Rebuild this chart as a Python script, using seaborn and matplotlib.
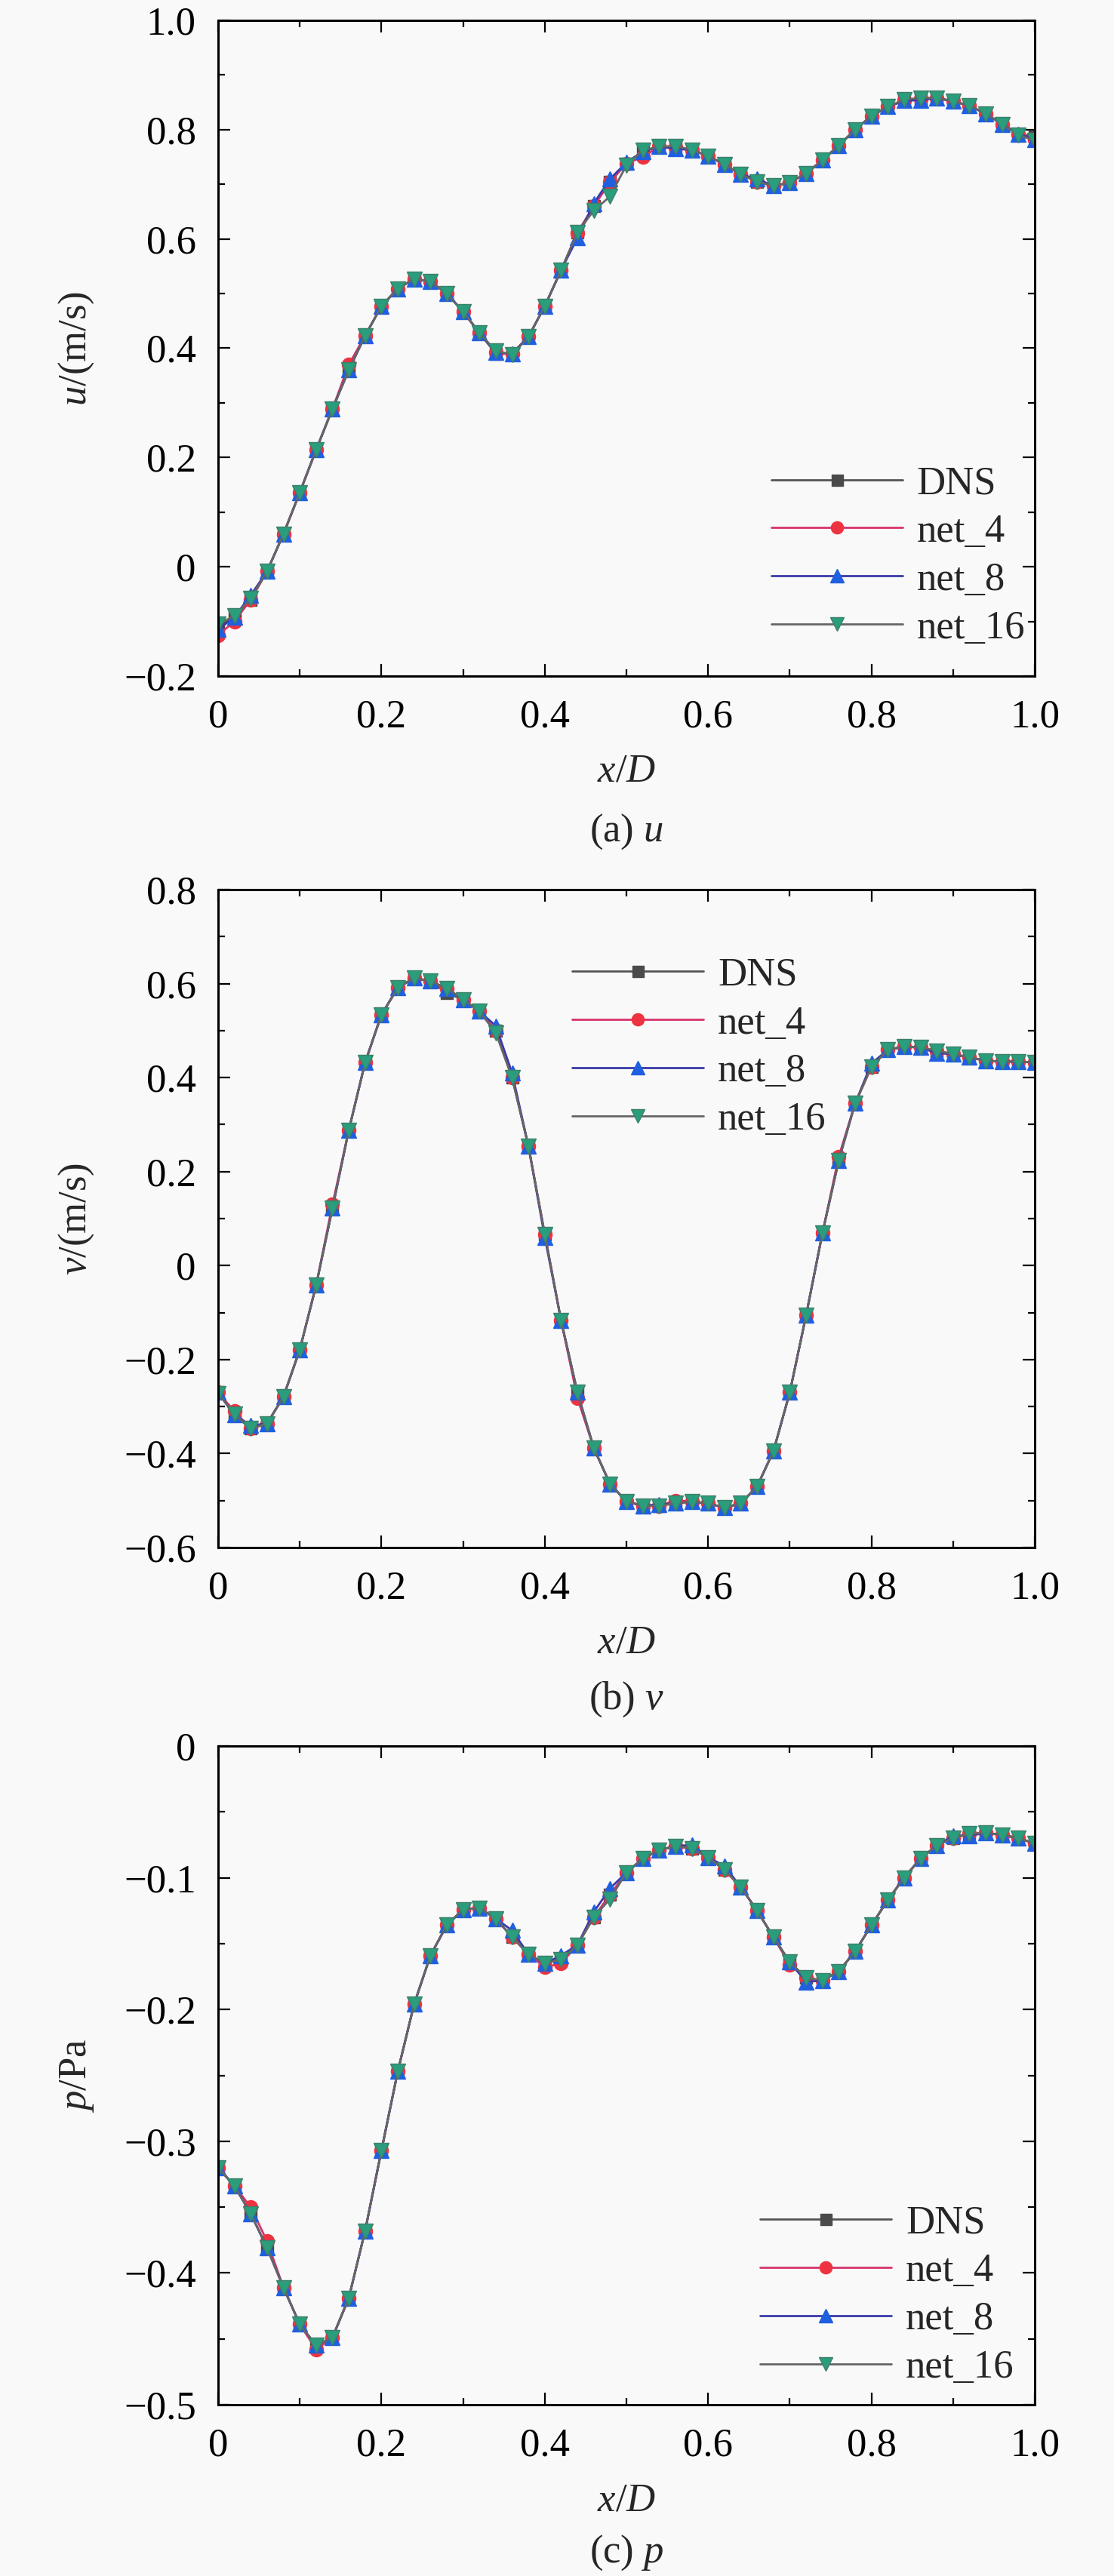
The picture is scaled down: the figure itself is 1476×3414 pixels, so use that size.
import numpy as np
import pandas as pd
import matplotlib
matplotlib.use("Agg")
import matplotlib.pyplot as plt
import seaborn as sns
from matplotlib.ticker import FixedLocator, MultipleLocator

# ---------------- data ----------------
x_pos = [0.00, 0.02, 0.04, 0.06, 0.08, 0.10, 0.12, 0.14, 0.16, 0.18,
         0.20, 0.22, 0.24, 0.26, 0.28, 0.30, 0.32, 0.34, 0.36, 0.38,
         0.40, 0.42, 0.44, 0.46, 0.48, 0.50, 0.52, 0.54, 0.56, 0.58,
         0.60, 0.62, 0.64, 0.66, 0.68, 0.70, 0.72, 0.74, 0.76, 0.78,
         0.80, 0.82, 0.84, 0.86, 0.88, 0.90, 0.92, 0.94, 0.96, 0.98, 1.00]

u_dns = [-0.110, -0.092, -0.060, -0.008, 0.060, 0.136, 0.214, 0.289, 0.360, 0.423,
         0.477, 0.509, 0.527, 0.522, 0.500, 0.467, 0.428, 0.390, 0.390, 0.421,
         0.477, 0.543, 0.612, 0.660, 0.705, 0.738, 0.760, 0.769, 0.768, 0.763,
         0.752, 0.736, 0.718, 0.705, 0.697, 0.703, 0.720, 0.744, 0.771, 0.800,
         0.825, 0.842, 0.853, 0.857, 0.858, 0.852, 0.844, 0.829, 0.810, 0.792, 0.788]
u_net4 = [-0.125, -0.100, -0.060, -0.008, 0.060, 0.136, 0.214, 0.289, 0.370, 0.423,
          0.477, 0.509, 0.527, 0.522, 0.500, 0.467, 0.428, 0.392, 0.390, 0.421,
          0.477, 0.543, 0.610, 0.660, 0.705, 0.738, 0.750, 0.769, 0.768, 0.763,
          0.752, 0.736, 0.718, 0.705, 0.697, 0.703, 0.720, 0.744, 0.771, 0.800,
          0.825, 0.842, 0.853, 0.857, 0.858, 0.852, 0.844, 0.829, 0.810, 0.792, 0.782]
u_net8 = [-0.115, -0.092, -0.052, -0.008, 0.060, 0.136, 0.214, 0.289, 0.360, 0.423,
          0.477, 0.509, 0.527, 0.522, 0.500, 0.467, 0.428, 0.392, 0.390, 0.421,
          0.477, 0.543, 0.602, 0.665, 0.710, 0.740, 0.760, 0.769, 0.765, 0.763,
          0.752, 0.736, 0.718, 0.710, 0.697, 0.703, 0.720, 0.744, 0.771, 0.800,
          0.825, 0.842, 0.853, 0.854, 0.858, 0.852, 0.844, 0.829, 0.810, 0.792, 0.782]
u_net16 = [-0.105, -0.090, -0.058, -0.008, 0.060, 0.136, 0.214, 0.289, 0.360, 0.423,
           0.477, 0.509, 0.527, 0.522, 0.500, 0.467, 0.428, 0.395, 0.388, 0.421,
           0.477, 0.543, 0.612, 0.652, 0.678, 0.735, 0.762, 0.769, 0.770, 0.763,
           0.752, 0.736, 0.718, 0.705, 0.697, 0.703, 0.720, 0.744, 0.771, 0.800,
           0.825, 0.842, 0.855, 0.858, 0.858, 0.852, 0.844, 0.829, 0.810, 0.790, 0.780]

v_dns = [-0.270, -0.318, -0.347, -0.336, -0.279, -0.179, -0.042, 0.122, 0.288, 0.432,
         0.534, 0.591, 0.612, 0.605, 0.580, 0.566, 0.541, 0.500, 0.400, 0.254,
         0.067, -0.117, -0.270, -0.388, -0.465, -0.502, -0.511, -0.511, -0.506, -0.502,
         -0.506, -0.515, -0.506, -0.470, -0.395, -0.270, -0.106, 0.069, 0.224, 0.345,
         0.423, 0.459, 0.466, 0.464, 0.457, 0.450, 0.443, 0.436, 0.434, 0.434, 0.432]
v_net4 = [-0.270, -0.310, -0.347, -0.336, -0.279, -0.179, -0.042, 0.130, 0.288, 0.432,
          0.534, 0.591, 0.612, 0.605, 0.590, 0.566, 0.541, 0.500, 0.400, 0.254,
          0.067, -0.117, -0.282, -0.388, -0.465, -0.502, -0.511, -0.511, -0.500, -0.502,
          -0.506, -0.515, -0.506, -0.470, -0.395, -0.270, -0.106, 0.069, 0.232, 0.345,
          0.423, 0.459, 0.466, 0.464, 0.457, 0.450, 0.443, 0.436, 0.434, 0.434, 0.432]
v_net8 = [-0.270, -0.318, -0.340, -0.336, -0.279, -0.179, -0.042, 0.122, 0.288, 0.432,
          0.534, 0.591, 0.612, 0.605, 0.590, 0.566, 0.541, 0.510, 0.410, 0.254,
          0.060, -0.117, -0.270, -0.388, -0.465, -0.502, -0.511, -0.508, -0.506, -0.502,
          -0.506, -0.515, -0.506, -0.470, -0.395, -0.270, -0.106, 0.069, 0.224, 0.345,
          0.430, 0.459, 0.466, 0.464, 0.452, 0.450, 0.443, 0.436, 0.434, 0.434, 0.432]
v_net16 = [-0.272, -0.316, -0.347, -0.336, -0.279, -0.179, -0.042, 0.122, 0.288, 0.432,
           0.534, 0.591, 0.612, 0.605, 0.590, 0.566, 0.541, 0.495, 0.400, 0.254,
           0.067, -0.117, -0.270, -0.388, -0.465, -0.502, -0.511, -0.511, -0.506, -0.502,
           -0.506, -0.515, -0.506, -0.470, -0.395, -0.270, -0.106, 0.069, 0.224, 0.345,
           0.423, 0.459, 0.466, 0.464, 0.457, 0.450, 0.443, 0.436, 0.434, 0.434, 0.432]

p_dns = [-0.320, -0.334, -0.355, -0.381, -0.411, -0.439, -0.455, -0.449, -0.419, -0.368,
         -0.307, -0.247, -0.196, -0.159, -0.136, -0.124, -0.123, -0.131, -0.145, -0.158,
         -0.165, -0.162, -0.151, -0.130, -0.113, -0.096, -0.0855, -0.079, -0.076, -0.078,
         -0.0845, -0.094, -0.107, -0.125, -0.145, -0.164, -0.176, -0.178, -0.171, -0.156,
         -0.136, -0.117, -0.100, -0.0855, -0.0756, -0.0697, -0.0667, -0.066, -0.0674, -0.070, -0.074]
p_net4 = [-0.320, -0.334, -0.350, -0.376, -0.411, -0.439, -0.458, -0.449, -0.419, -0.368,
          -0.307, -0.247, -0.196, -0.159, -0.136, -0.124, -0.123, -0.131, -0.145, -0.158,
          -0.168, -0.165, -0.151, -0.130, -0.113, -0.096, -0.0855, -0.079, -0.076, -0.078,
          -0.0845, -0.094, -0.107, -0.125, -0.145, -0.166, -0.176, -0.178, -0.171, -0.156,
          -0.136, -0.117, -0.100, -0.0855, -0.0756, -0.0697, -0.0667, -0.066, -0.0674, -0.070, -0.074]
p_net8 = [-0.320, -0.334, -0.355, -0.381, -0.411, -0.439, -0.455, -0.449, -0.419, -0.368,
          -0.307, -0.247, -0.196, -0.159, -0.136, -0.124, -0.123, -0.131, -0.140, -0.158,
          -0.165, -0.159, -0.151, -0.126, -0.108, -0.096, -0.0855, -0.079, -0.076, -0.075,
          -0.0845, -0.091, -0.107, -0.125, -0.145, -0.164, -0.179, -0.178, -0.171, -0.156,
          -0.136, -0.117, -0.100, -0.0855, -0.0756, -0.068, -0.068, -0.066, -0.0674, -0.070, -0.074]
p_net16 = [-0.320, -0.334, -0.355, -0.381, -0.411, -0.439, -0.455, -0.449, -0.419, -0.368,
           -0.307, -0.247, -0.196, -0.159, -0.136, -0.124, -0.123, -0.131, -0.145, -0.158,
           -0.165, -0.162, -0.151, -0.130, -0.116, -0.096, -0.0855, -0.079, -0.076, -0.078,
           -0.0845, -0.094, -0.107, -0.125, -0.145, -0.164, -0.176, -0.178, -0.171, -0.156,
           -0.136, -0.117, -0.100, -0.0855, -0.0756, -0.0697, -0.0667, -0.066, -0.0674, -0.070, -0.074]

series_names = ["DNS", "net_4", "net_8", "net_16"]

x_ticks = [0, 0.2, 0.4, 0.6, 0.8, 1.0]
x_ticklabels = ["0", "0.2", "0.4", "0.6", "0.8", "1.0"]
u_ticks = [-0.2, 0, 0.2, 0.4, 0.6, 0.8, 1.0]
u_ticklabels = ["\u22120.2", "0", "0.2", "0.4", "0.6", "0.8", "1.0"]
v_ticks = [-0.6, -0.4, -0.2, 0, 0.2, 0.4, 0.6, 0.8]
v_ticklabels = ["\u22120.6", "\u22120.4", "\u22120.2", "0", "0.2", "0.4", "0.6", "0.8"]
p_ticks = [-0.5, -0.4, -0.3, -0.2, -0.1, 0]
p_ticklabels = ["\u22120.5", "\u22120.4", "\u22120.3", "\u22120.2", "\u22120.1", "0"]

# ---------------- style ----------------
sns.set_style("ticks")
BG = "#f9f9f9"
plt.rcParams["font.family"] = ["Liberation Serif", "DejaVu Serif"]
plt.rcParams["mathtext.fontset"] = "custom"
plt.rcParams["mathtext.rm"] = "Liberation Serif"
plt.rcParams["mathtext.it"] = "Liberation Serif:italic"
plt.rcParams["mathtext.bf"] = "Liberation Serif:bold"
plt.rcParams["axes.unicode_minus"] = True

FS = 38

styles = {
    "DNS":    dict(color="#555555", marker="s", mfc="#4a4a4a", mec="#4a4a4a", ms=12),
    "net_4":  dict(color="#d6336c", marker="o", mfc="#ee3340", mec="#ee3340", ms=13),
    "net_8":  dict(color="#3a3aa8", marker="^", mfc="#1f5fe0", mec="#1f5fe0", ms=14),
    "net_16": dict(color="#666666", marker="v", mfc="#2a9d7c", mec="#3f7f6a", ms=14),
}

fig = plt.figure(figsize=(14.76, 34.14), dpi=100, facecolor=BG)
W, H = 1476.0, 3414.0

panels = [
    dict(top=27, bottom=896, y=[u_dns, u_net4, u_net8, u_net16], ticks=u_ticks,
         labels=u_ticklabels, lim=(-0.2, 1.0), minor=0.1, ylabel="$u$/(m/s)",
         caption="(a) $u$", cap_y=1102, leg=(0.677, 0.321)),
    dict(top=1179, bottom=2051, y=[v_dns, v_net4, v_net8, v_net16], ticks=v_ticks,
         labels=v_ticklabels, lim=(-0.6, 0.8), minor=0.1, ylabel="$v$/(m/s)",
         caption="(b) $v$", cap_y=2252, leg=(0.4335, 0.897)),
    dict(top=2314, bottom=3187, y=[p_dns, p_net4, p_net8, p_net16], ticks=p_ticks,
         labels=p_ticklabels, lim=(-0.5, 0.0), minor=0.05, ylabel="$p$/Pa",
         caption="(c) $p$", cap_y=3383, leg=(0.6636, 0.303)),
]

L, R = 289, 1371
for pn in panels:
    ax = fig.add_axes([L / W, 1 - pn["bottom"] / H, (R - L) / W, (pn["bottom"] - pn["top"]) / H])
    ax.set_facecolor(BG)
    for name, yv in zip(series_names, pn["y"]):
        st = styles[name]
        df = pd.DataFrame({"x": x_pos, "y": yv})
        sns.lineplot(data=df, x="x", y="y", ax=ax, color=st["color"], linewidth=2.0,
                     marker=st["marker"], markersize=st["ms"], markerfacecolor=st["mfc"],
                     markeredgecolor=st["mec"], markeredgewidth=1.0, label=name,
                     legend=False)
    ax.set_xlim(0, 1.0)
    ax.set_ylim(*pn["lim"])
    ax.xaxis.set_major_locator(FixedLocator(x_ticks))
    ax.set_xticklabels(x_ticklabels)
    ax.xaxis.set_minor_locator(MultipleLocator(0.1))
    ax.yaxis.set_major_locator(FixedLocator(pn["ticks"]))
    ax.set_yticklabels(pn["labels"])
    ax.yaxis.set_minor_locator(MultipleLocator(pn["minor"]))
    ax.tick_params(which="both", direction="in", top=True, right=True, width=1.6,
                   labelsize=FS, colors="black")
    ax.tick_params(which="major", length=11.5)
    ax.tick_params(which="minor", length=6.5)
    ax.tick_params(axis="x", which="major", pad=22)
    ax.tick_params(axis="y", which="major", pad=21)
    for sp in ax.spines.values():
        sp.set_linewidth(2.2)
        sp.set_color("black")
        sp.set_visible(True)
    ax.set_xlabel("$x/D$", fontsize=FS)
    ax.set_ylabel(pn["ylabel"], fontsize=FS)
    ax.xaxis.set_label_coords(0.5, -0.118)
    ax.yaxis.set_label_coords((127 - L) / (R - L), 0.5)
    leg = ax.legend(loc="upper left", bbox_to_anchor=pn["leg"], frameon=False,
                    fontsize=FS, handlelength=3.3, handletextpad=0.36,
                    labelspacing=0.3, borderpad=0, borderaxespad=0, numpoints=1,
                    markerscale=0.9)
    fig.text((L + R) / 2 / W, 1 - pn["cap_y"] / H, pn["caption"], ha="center",
             va="center", fontsize=FS)

fig.savefig("out.png", dpi=100, facecolor=BG)
